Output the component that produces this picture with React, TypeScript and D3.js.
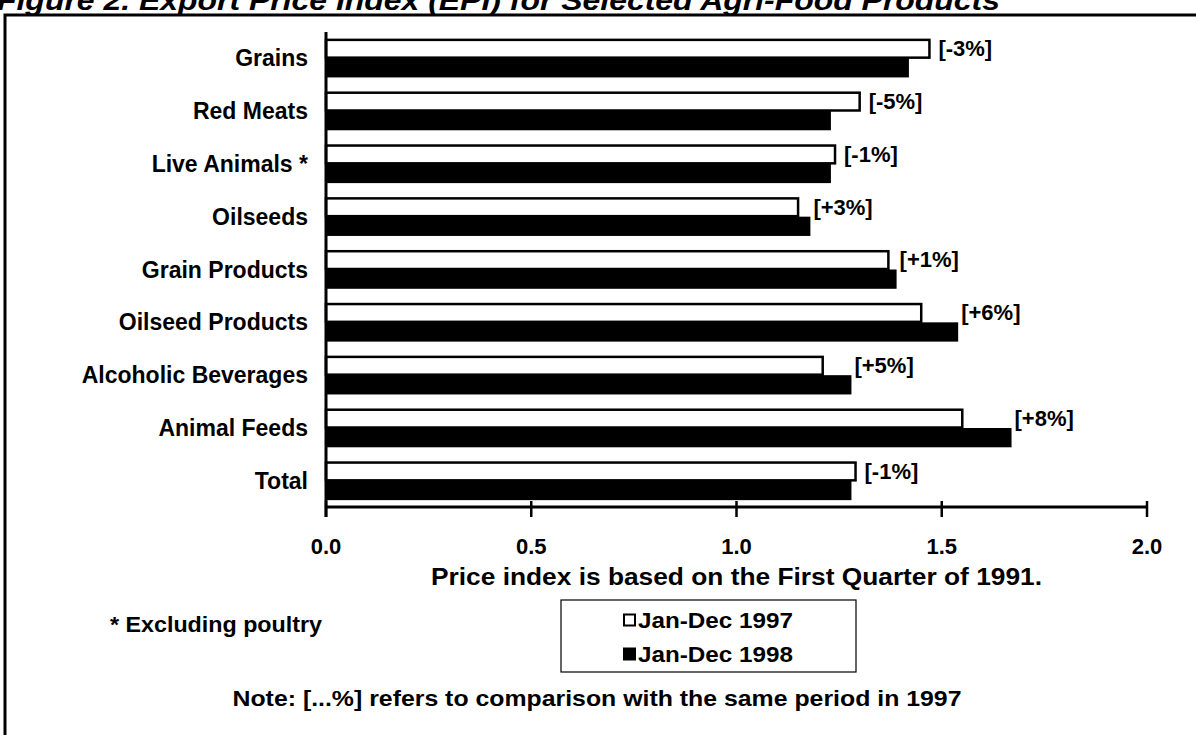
import React from 'react';
import * as d3 from 'd3';

// EPI values
const categories = [
  'Grains',
  'Red Meats',
  'Live Animals *',
  'Oilseeds',
  'Grain Products',
  'Oilseed Products',
  'Alcoholic Beverages',
  'Animal Feeds',
  'Total',
];
const values1997 = [1.47, 1.30, 1.24, 1.15, 1.37, 1.45, 1.21, 1.55, 1.29];
const values1998 = [1.42, 1.23, 1.23, 1.18, 1.39, 1.54, 1.28, 1.67, 1.28];
const changeLabels = ['[-3%]', '[-5%]', '[-1%]', '[+3%]', '[+1%]', '[+6%]', '[+5%]', '[+8%]', '[-1%]'];
const seriesNames = ['Jan-Dec 1997', 'Jan-Dec 1998'];
const xTicks = [0, 0.5, 1.0, 1.5, 2.0];

const W = 1196;
const H = 735;
const FONT = '"Liberation Sans", Arial, Helvetica, sans-serif';

export default function App() {
  const x = d3.scaleLinear().domain([0, 2]).range([326, 1147]);
  const y = d3.scaleBand<string>()
    .domain(categories)
    .range([32, 507])
    .paddingInner(0.27)
    .paddingOuter(0.13);
  const sub = d3.scaleBand<string>().domain(['1997', '1998']).range([0, y.bandwidth()]);
  const axisY = 507;
  const fmt = d3.format('.1f');

  return (
    <svg width={W} height={H} style={{position: 'absolute', left: 0, top: 0, display: 'block', background: '#fff'}}
      fontFamily={FONT} fontWeight="bold">
      {/* title, mostly cut off at the top */}
      <text x={-3} y={10} fontSize={28} fontStyle="italic" fill="#000" textLength={1003} lengthAdjust="spacingAndGlyphs">
        Figure 2. Export Price Index (EPI) for Selected Agri-Food Products
      </text>
      <rect x={5} y={15} width={W + 20} height={H + 20} fill="none" stroke="#000" strokeWidth={3} />

      {/* bars */}
      {categories.map((c, i) => {
        const y0 = y(c)!;
        const v97 = values1997[i];
        const v98 = values1998[i];
        const labelX = v97 >= v98 ? x(v97) + 9 : x(v98) + 3;
        return (
          <g key={c}>
            <rect x={x(0)} y={y0 + sub('1997')! + 1} width={x(v97) - x(0)} height={sub.bandwidth() - 1.5}
              fill="#fff" stroke="#000" strokeWidth={2.5} />
            <rect x={x(0)} y={y0 + sub('1998')!} width={x(v98) - x(0)} height={sub.bandwidth()} fill="#000" />
            <text x={labelX} y={y0 + sub('1997')! + sub.bandwidth() / 2} dominantBaseline="central" fontSize={22}>
              {changeLabels[i]}
            </text>
            <text x={308} y={y0 + y.bandwidth() / 2} textAnchor="end" dominantBaseline="central" fontSize={23}>
              {c}
            </text>
          </g>
        );
      })}

      {/* axes */}
      <line x1={x(0)} x2={x(0)} y1={32} y2={axisY + 10} stroke="#000" strokeWidth={3} />
      <line x1={x(0)} x2={x(2)} y1={axisY} y2={axisY} stroke="#000" strokeWidth={3} />
      {xTicks.map(t => (
        <g key={t}>
          <line x1={x(t)} x2={x(t)} y1={axisY - 6} y2={axisY + 10} stroke="#000" strokeWidth={2.5} />
          <text x={x(t)} y={546} textAnchor="middle" dominantBaseline="central" fontSize={22}>{fmt(t)}</text>
        </g>
      ))}
      <text x={(x(0) + x(2)) / 2} y={577} textAnchor="middle" dominantBaseline="central" fontSize={23}
        textLength={611} lengthAdjust="spacingAndGlyphs">
        Price index is based on the First Quarter of 1991.
      </text>

      <text x={110} y={624} dominantBaseline="central" fontSize={22} textLength={212} lengthAdjust="spacingAndGlyphs">
        * Excluding poultry
      </text>

      {/* legend */}
      <rect x={561} y={600} width={295} height={72} fill="#fff" stroke="#000" strokeWidth={1.2} />
      {seriesNames.map((s, i) => (
        <g key={s}>
          <rect x={624} y={(i === 0 ? 620 : 654) - 5.5} width={11} height={11}
            fill={i === 0 ? '#fff' : '#000'} stroke="#000" strokeWidth={2} />
          <text x={638} y={i === 0 ? 620 : 654} dominantBaseline="central" fontSize={22}
            textLength={155} lengthAdjust="spacingAndGlyphs">{s}</text>
        </g>
      ))}

      <text x={597} y={698} textAnchor="middle" dominantBaseline="central" fontSize={22}
        textLength={729} lengthAdjust="spacingAndGlyphs">
        Note: [...%] refers to comparison with the same period in 1997
      </text>
    </svg>
  );
}
